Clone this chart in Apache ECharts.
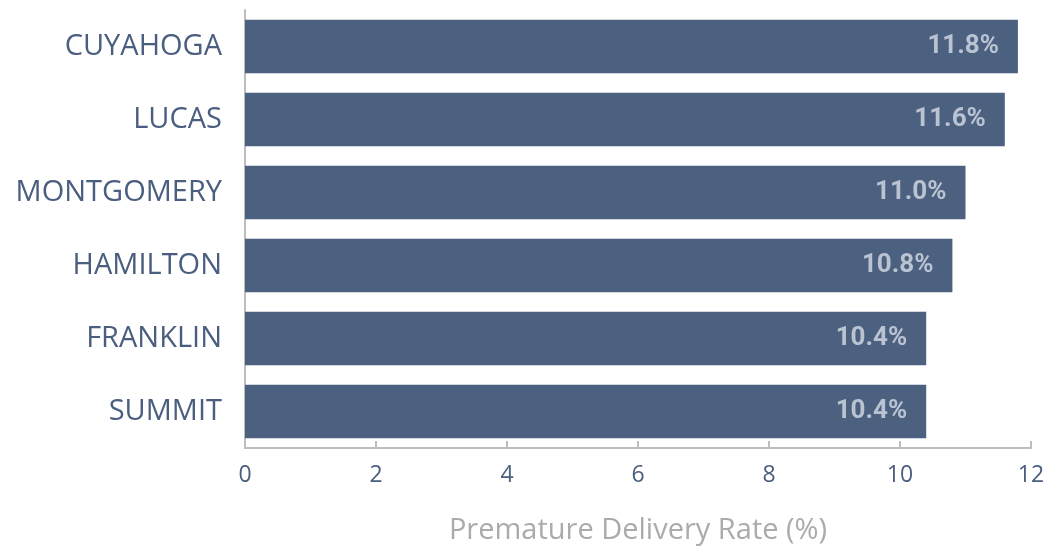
<!DOCTYPE html>
<html><head><meta charset="utf-8">
<script src="https://cdn.jsdelivr.net/npm/echarts@6/dist/echarts.min.js"></script>
<style>html,body{margin:0;padding:0;background:#fff}#c{width:1050px;height:550px}</style>
</head><body><div id="c"></div>
<script>
const categories = ['CUYAHOGA','LUCAS','MONTGOMERY','HAMILTON','FRANKLIN','SUMMIT'];
const values = [11.8, 11.6, 11.0, 10.8, 10.4, 10.4];
const xTicks = [0, 2, 4, 6, 8, 10, 12];
const axisTitle = 'Premature Delivery Rate (%)';

const chart = echarts.init(document.getElementById('c'), null, {renderer:'canvas'});
chart.setOption({
  animation:false,
  grid:{left:245, right:19, top:10, bottom:91},
  xAxis:{
    type:'value', min:xTicks[0], max:xTicks[xTicks.length-1], interval:2,
    name:axisTitle, nameLocation:'middle', nameGap:68,
    nameTextStyle:{color:'#ababab', fontSize:29, fontFamily:'Open Sans'},
    axisLine:{show:true, lineStyle:{color:'#bdbdbd', width:2}},
    axisTick:{show:true, inside:true, length:7, lineStyle:{color:'#bdbdbd', width:2}},
    axisLabel:{color:'#4a5e7f', fontSize:23, fontFamily:'Open Sans', margin:16},
    splitLine:{show:false}
  },
  yAxis:{
    type:'category', data:categories, inverse:true,
    axisLine:{show:true, lineStyle:{color:'#bdbdbd', width:2}},
    axisTick:{show:false},
    axisLabel:{color:'#4a5e7f', fontSize:29, fontFamily:'Open Sans', margin:23}
  },
  series:[{
    type:'bar', data:values, barCategoryGap:'27%',
    itemStyle:{color:'#4c6080'},
    label:{show:true, position:'insideRight', distance:19,
      formatter:p=>p.value.toFixed(1)+'%',
      color:'#bac3d1', fontSize:26, fontWeight:'bold', fontFamily:'Liberation Sans Narrow, Roboto'}
  }]
});
</script></body></html>
